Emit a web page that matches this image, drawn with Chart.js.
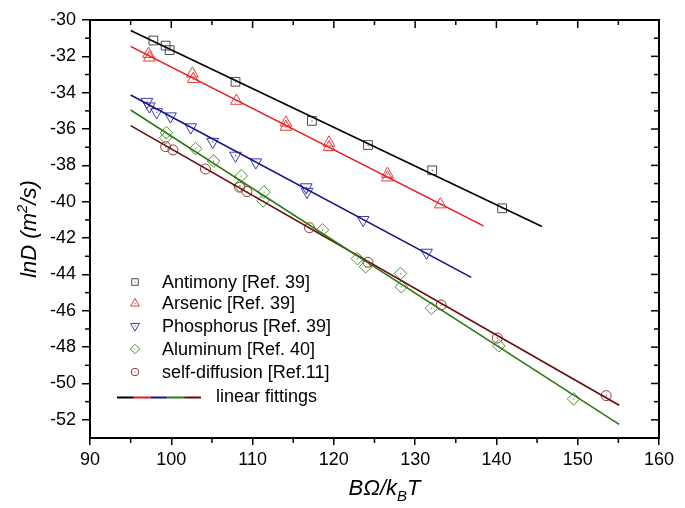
<!DOCTYPE html>
<html><head><meta charset="utf-8">
<script src="https://cdn.jsdelivr.net/npm/chart.js@4/dist/chart.umd.min.js"></script>
<style>html,body{margin:0;padding:0;background:#fff;}#wrap{width:685px;height:508px;position:relative;}</style>
</head><body><div id="wrap"><canvas id="c" width="685" height="508"></canvas></div>
<script>
// ---- tick labels ----
const xTicks = [90, 100, 110, 120, 130, 140, 150, 160];
const yTicks = [-52, -50, -48, -46, -44, -42, -40, -38, -36, -34, -32, -30];

// ---- series (x = BΩ/kBT, y = lnD) ----
const seriesNames = ["Antimony [Ref. 39]", "Arsenic [Ref. 39]", "Phosphorus [Ref. 39]", "Aluminum [Ref. 40]", "self-diffusion [Ref.11]"];
const sbX = [97.8, 99.3, 99.8, 107.9, 117.3, 124.2, 132.1, 140.7];
const sbY = [-31.13, -31.41, -31.66, -33.40, -35.55, -36.88, -38.27, -40.36];
const asX = [97.2, 97.3, 102.6, 102.7, 108.0, 114.1, 114.1, 119.4, 119.4, 126.6, 126.6, 133.1];
const asY = [-31.87, -32.07, -32.95, -33.25, -34.45, -35.65, -35.88, -36.75, -37.0, -38.47, -38.67, -40.15];
const pX = [97.0, 97.3, 98.2, 99.9, 102.4, 105.1, 107.9, 110.4, 116.6, 116.7, 123.6, 131.4];
const pY = [-34.5, -34.75, -35.07, -35.3, -35.9, -36.7, -37.46, -37.83, -39.2, -39.45, -41.0, -42.8];
const alX = [99.4, 99.3, 103.0, 105.2, 108.6, 108.4, 111.4, 111.3, 118.6, 122.9, 123.9, 128.2, 128.3, 132.0, 140.3, 149.5];
const alY = [-36.2, -36.48, -37.08, -37.76, -38.58, -39.12, -39.47, -39.95, -41.55, -43.13, -43.58, -43.95, -44.68, -45.86, -47.93, -50.85];
const sdX = [99.3, 100.2, 104.2, 108.4, 109.3, 117.0, 124.2, 133.2, 140.1, 153.5];
const sdY = [-36.97, -37.15, -38.2, -39.2, -39.44, -41.43, -43.33, -45.68, -47.5, -50.67];

// ---- linear fittings (end points) ----
const fitSbX = [95, 145.6], fitSbY = [-30.58, -41.36];
const fitAsX = [95, 138.4], fitAsY = [-31.45, -41.33];
const fitPX = [95, 136.9], fitPY = [-34.13, -44.16];
const fitAlX = [95, 155.1], fitAlY = [-34.95, -52.25];
const fitSdX = [95, 155.1], fitSdY = [-35.81, -51.2];
const fitLabel = "linear fittings";

const FONT = '"Liberation Sans", Arial, Helvetica, sans-serif';
const pts = (xs, ys) => xs.map((x, i) => ({x: x, y: ys[i]}));

const markerCol = ['#4a4a4a', '#e83a3a', '#3a3aa8', '#4a9236', '#8e3a3a'];
const lineCol = ['#000000', '#e81a1a', '#14148a', '#2e7a12', '#6a0808'];
const styles = [
  {ps: 'rect', r: 6.2, rot: 0},
  {ps: 'triangle', r: 6.8, rot: 0},
  {ps: 'triangle', r: 6.8, rot: 180},
  {ps: 'rectRot', r: 6.3, rot: 0},
  {ps: 'circle', r: 5.0, rot: 0}
];

const fitSets = [[fitSbX, fitSbY], [fitAsX, fitAsY], [fitPX, fitPY], [fitAlX, fitAlY], [fitSdX, fitSdY]];
const ptSets = [[sbX, sbY], [asX, asY], [pX, pY], [alX, alY], [sdX, sdY]];

const datasets = [];
fitSets.forEach((f, i) => datasets.push({
  label: 'fit' + i, data: pts(f[0], f[1]), showLine: true, borderColor: lineCol[i],
  borderWidth: 1.6, pointRadius: 0, fill: false, isFit: true
}));
ptSets.forEach((s, i) => datasets.push({
  label: seriesNames[i], data: pts(s[0], s[1]), showLine: false,
  pointStyle: styles[i].ps, pointRadius: styles[i].r, pointRotation: styles[i].rot,
  pointBorderColor: markerCol[i], pointBackgroundColor: 'rgba(0,0,0,0)', pointBorderWidth: 1,
  pointHoverRadius: styles[i].r, idx: i
}));

function drawMarker(ctx, style, x, y, r, color) {
  ctx.save();
  ctx.strokeStyle = color; ctx.lineWidth = 1;
  ctx.beginPath();
  if (style.ps === 'rect') {
    const s = r * Math.SQRT1_2; ctx.rect(x - s, y - s, 2 * s, 2 * s);
  } else if (style.ps === 'triangle') {
    const d = style.rot === 180 ? -1 : 1;
    ctx.moveTo(x, y - d * r);
    ctx.lineTo(x + r * 0.866, y + d * r * 0.5);
    ctx.lineTo(x - r * 0.866, y + d * r * 0.5);
    ctx.closePath();
  } else if (style.ps === 'rectRot') {
    ctx.moveTo(x, y - r); ctx.lineTo(x + r, y); ctx.lineTo(x, y + r); ctx.lineTo(x - r, y); ctx.closePath();
  } else {
    ctx.arc(x, y, r, 0, Math.PI * 2);
  }
  ctx.stroke();
  ctx.fillStyle = color; ctx.fillRect(x - 0.5, y - 0.5, 1, 1);
  ctx.restore();
}

const decor = {
  id: 'decor',
  afterDatasetsDraw(chart) {
    const ctx = chart.ctx;
    chart.data.datasets.forEach((ds, di) => {
      if (ds.isFit) return;
      const meta = chart.getDatasetMeta(di);
      ctx.save(); ctx.fillStyle = markerCol[ds.idx];
      meta.data.forEach(el => ctx.fillRect(el.x - 0.5, el.y - 0.5, 1.2, 1.2));
      ctx.restore();
    });
  },
  afterDraw(chart) {
    const ctx = chart.ctx;
    const a = chart.chartArea;
    const xs = chart.scales.x, ys = chart.scales.y;
    ctx.save();
    ctx.strokeStyle = '#000';
    ctx.lineWidth = 2;
    ctx.beginPath();
    ctx.moveTo(a.left - 1, a.top); ctx.lineTo(a.right, a.top); ctx.lineTo(a.right, a.bottom + 1);
    ctx.stroke();
    ctx.lineWidth = 1.5;
    for (let i = 0; i < xTicks.length; i++) {
      const v = xTicks[i];
      const px = xs.getPixelForValue(v);
      ctx.beginPath(); ctx.moveTo(px, a.top); ctx.lineTo(px, a.top + 8); ctx.stroke();
      if (i < xTicks.length - 1) {
        const m = xs.getPixelForValue((v + xTicks[i + 1]) / 2);
        ctx.beginPath(); ctx.moveTo(m, a.bottom); ctx.lineTo(m, a.bottom + 5); ctx.stroke();
        ctx.beginPath(); ctx.moveTo(m, a.top); ctx.lineTo(m, a.top + 5); ctx.stroke();
      }
    }
    const yMinor = yTicks.slice(0, -1).map((v, i) => (v + yTicks[i + 1]) / 2);
    yTicks.forEach(v => {
      const py = ys.getPixelForValue(v);
      ctx.beginPath(); ctx.moveTo(a.right, py); ctx.lineTo(a.right - 8, py); ctx.stroke();
    });
    yMinor.forEach(v => {
      const py = ys.getPixelForValue(v);
      ctx.beginPath(); ctx.moveTo(a.left, py); ctx.lineTo(a.left - 5, py); ctx.stroke();
      ctx.beginPath(); ctx.moveTo(a.right, py); ctx.lineTo(a.right - 5, py); ctx.stroke();
    });
    ctx.restore();

    // legend
    const lx = 135, tx = 162, rows = [282, 303.5, 326, 349, 372];
    ctx.save();
    ctx.font = '18px ' + FONT; ctx.fillStyle = '#000'; ctx.textBaseline = 'middle'; ctx.textAlign = 'left';
    seriesNames.forEach((n, i) => {
      drawMarker(ctx, styles[i], lx, rows[i], styles[i].r * 0.75, markerCol[i]);
      ctx.fillText(n, tx, rows[i] + 1);
    });
    const ly = 397.5, segW = (201 - 117) / 5;
    lineCol.forEach((c, i) => {
      ctx.strokeStyle = c; ctx.lineWidth = 2;
      ctx.beginPath(); ctx.moveTo(117 + i * segW, ly); ctx.lineTo(117 + (i + 1) * segW, ly); ctx.stroke();
    });
    ctx.fillText(fitLabel, 216, ly);
    ctx.restore();

    // x title
    ctx.save();
    ctx.fillStyle = '#000'; ctx.textBaseline = 'alphabetic'; ctx.textAlign = 'left';
    const big = 'italic 22px ' + FONT, small = 'italic 15px ' + FONT;
    ctx.font = big; const w1 = ctx.measureText('BΩ/k').width; const w3 = ctx.measureText('T').width;
    ctx.font = small; const w2 = ctx.measureText('B').width;
    const cx = (a.left + a.right) / 2 + 10;
    let x0 = cx - (w1 + w2 + w3) / 2; const by = 495;
    ctx.font = big; ctx.fillText('BΩ/k', x0, by); x0 += w1;
    ctx.font = small; ctx.fillText('B', x0, by + 6); x0 += w2;
    ctx.font = big; ctx.fillText('T', x0, by);
    ctx.restore();

    // y title
    ctx.save();
    ctx.translate(30, (a.top + a.bottom) / 2);
    ctx.rotate(-Math.PI / 2);
    ctx.fillStyle = '#000'; ctx.textBaseline = 'middle'; ctx.textAlign = 'left';
    const p1 = 'lnD (m', p2 = '2', p3 = '/s)';
    ctx.font = big; const a1 = ctx.measureText(p1).width, a3 = ctx.measureText(p3).width;
    ctx.font = small; const a2 = ctx.measureText(p2).width;
    let t0 = -(a1 + a2 + a3) / 2;
    ctx.font = big; ctx.fillText(p1, t0, 0); t0 += a1;
    ctx.font = small; ctx.fillText(p2, t0, -7); t0 += a2;
    ctx.font = big; ctx.fillText(p3, t0, 0);
    ctx.restore();
  }
};

new Chart(document.getElementById('c'), {
  type: 'scatter',
  data: {datasets: datasets},
  options: {
    responsive: false, devicePixelRatio: 1, animation: false,
    layout: {padding: {top: 20, right: 26, left: 0, bottom: 0}},
    plugins: {legend: {display: false}, tooltip: {enabled: false}},
    scales: {
      x: {
        type: 'linear', min: 90, max: 160,
        afterBuildTicks: s => { s.ticks = xTicks.map(v => ({value: v})); },
        afterFit: s => { s.height = 70; },
        ticks: {font: {size: 18, family: FONT}, color: '#000', padding: 4, maxRotation: 0, autoSkip: false},
        grid: {display: true, drawOnChartArea: false, drawTicks: true, tickLength: 7, color: '#000', lineWidth: 1.5},
        border: {display: true, color: '#000', width: 2}
      },
      y: {
        type: 'linear', min: -53, max: -30,
        afterBuildTicks: s => { s.ticks = yTicks.map(v => ({value: v})); },
        afterFit: s => { s.width = 90; },
        ticks: {font: {size: 18, family: FONT}, color: '#000', padding: 6, autoSkip: false},
        grid: {display: true, drawOnChartArea: false, drawTicks: true, tickLength: 8, color: '#000', lineWidth: 1.5},
        border: {display: true, color: '#000', width: 2}
      }
    }
  },
  plugins: [decor]
});
</script></body></html>
